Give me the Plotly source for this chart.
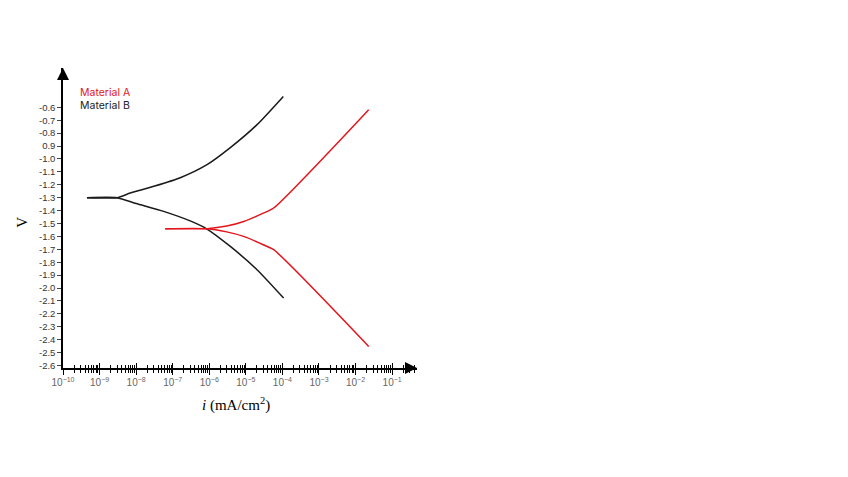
import plotly.graph_objects as go

# Material B (black) - current density (mA/cm^2) and potential (V)
b_upper_i = [4.52e-10, 2.99e-9, 6.9e-9, 3.2e-8, 1.61e-7, 8.67e-7, 3.76e-6, 2.02e-5, 1.06e-4]
b_upper_v = [-1.30, -1.30, -1.264, -1.21, -1.145, -1.044, -0.912, -0.734, -0.515]
b_lower_i = [4.52e-10, 2.99e-9, 1.0e-8, 5.64e-8, 3.0e-7, 8.67e-7, 3.76e-6, 2.02e-5, 1.08e-4]
b_lower_v = [-1.30, -1.30, -1.345, -1.406, -1.48, -1.543, -1.678, -1.858, -2.078]

# Material A (red)
a_upper_i = [6.28e-8, 8.67e-7, 3.0e-6, 8.7e-6, 3.0e-5, 5.75e-5, 2.29e-2]
a_upper_v = [-1.54, -1.54, -1.52, -1.484, -1.42, -1.38, -0.618]
a_lower_i = [6.28e-8, 8.67e-7, 3.0e-6, 8.7e-6, 3.0e-5, 5.75e-5, 2.29e-2]
a_lower_v = [-1.54, -1.54, -1.565, -1.60, -1.665, -1.703, -2.453]

y_tickvals = [-0.6, -0.7, -0.8, -0.9, -1.0, -1.1, -1.2, -1.3, -1.4, -1.5, -1.6,
              -1.7, -1.8, -1.9, -2.0, -2.1, -2.2, -2.3, -2.4, -2.5, -2.6]
y_ticktext = ["-0.6", "-0.7", "-0.8", "0.9", "-1.0", "-1.1", "-1.2", "-1.3", "-1.4", "-1.5", "-1.6",
              "-1.7", "-1.8", "-1.9", "-2.0", "-2.1", "-2.2", "-2.3", "-2.4", "-2.5", "-2.6"]

RED = "#e3161d"
BLACK = "#1a1a1a"

fig = go.Figure()
for xs, ys, c in [(b_upper_i, b_upper_v, BLACK), (b_lower_i, b_lower_v, BLACK),
                  (a_upper_i, a_upper_v, RED), (a_lower_i, a_lower_v, RED)]:
    fig.add_trace(go.Scatter(x=xs, y=ys, mode="lines",
                             line=dict(color=c, width=1.5, shape="spline", smoothing=0.6),
                             showlegend=False, hoverinfo="skip"))

# invisible trace on overlay axis so that it renders
fig.add_trace(go.Scatter(x=[1e-5], y=[-1.5], xaxis="x2", mode="markers",
                         marker=dict(opacity=0), showlegend=False, hoverinfo="skip"))

xr = [-10, -0.32]
fig.update_layout(
    width=840, height=469,
    margin=dict(l=55, r=431, t=60, b=109),
    paper_bgcolor="white", plot_bgcolor="white",
    xaxis=dict(type="log", range=xr, dtick=1, exponentformat="power", automargin=False,
               showgrid=False, zeroline=False, showline=True, linecolor="black", linewidth=1.5,
               ticks="outside", ticklen=5, tickwidth=1.2, tickcolor="black",
               tickfont=dict(family="Liberation Sans, Arial", size=8, color="#666666"),
               minor=dict(ticks="outside", ticklen=3, tickwidth=1, tickcolor="black",
                          dtick="D1", showgrid=False)),
    xaxis2=dict(type="log", range=xr, dtick=1, overlaying="x", side="bottom", automargin=False,
                showgrid=False, zeroline=False, showline=False, showticklabels=False,
                ticks="inside", ticklen=5, tickwidth=1.2, tickcolor="black",
                minor=dict(ticks="inside", ticklen=3, tickwidth=1, tickcolor="black",
                           dtick="D1", showgrid=False)),
    yaxis=dict(range=[-2.62, -0.295], tickmode="array", tickvals=y_tickvals, ticktext=y_ticktext,
               automargin=False,
               showgrid=False, zeroline=False, showline=True, linecolor="black", linewidth=1.5,
               ticks="outside", ticklen=4, tickwidth=1, tickcolor="#444444",
               tickfont=dict(family="Liberation Sans, Arial", size=9.5, color="#333333")),
    annotations=[
        # axis arrowheads
        dict(xref="paper", yref="paper", x=0, y=1, ax=0, ay=8, showarrow=True,
             arrowhead=2, arrowsize=1.6, arrowwidth=1.5, arrowcolor="black", text=""),
        dict(xref="paper", yref="paper", x=1, y=0, ax=-8, ay=0, showarrow=True,
             arrowhead=2, arrowsize=1.6, arrowwidth=1.5, arrowcolor="black", text=""),
        # legend labels
        dict(xref="paper", yref="paper", x=0.042, y=0.917, xanchor="left", yanchor="middle",
             text="Material A", showarrow=False,
             font=dict(family="Inter, Noto Sans", size=10.5, color=RED)),
        dict(xref="paper", yref="paper", x=0.042, y=0.874, xanchor="left", yanchor="middle",
             text="Material B", showarrow=False,
             font=dict(family="Inter, Noto Sans", size=10.5, color="#222222")),
        # axis titles
        dict(xref="paper", yref="paper", x=0.49, y=-0.123, xanchor="center", yanchor="middle",
             text="<i>i</i> (mA/cm<sup>2</sup>)", showarrow=False,
             font=dict(family="Liberation Serif, DejaVu Serif", size=15, color="black")),
        dict(xref="paper", yref="paper", x=-0.116, y=0.487, xanchor="center", yanchor="middle",
             text="V", textangle=-90, showarrow=False,
             font=dict(family="Liberation Serif, DejaVu Serif", size=15, color="black")),
    ],
)

fig.write_html("out.html")
